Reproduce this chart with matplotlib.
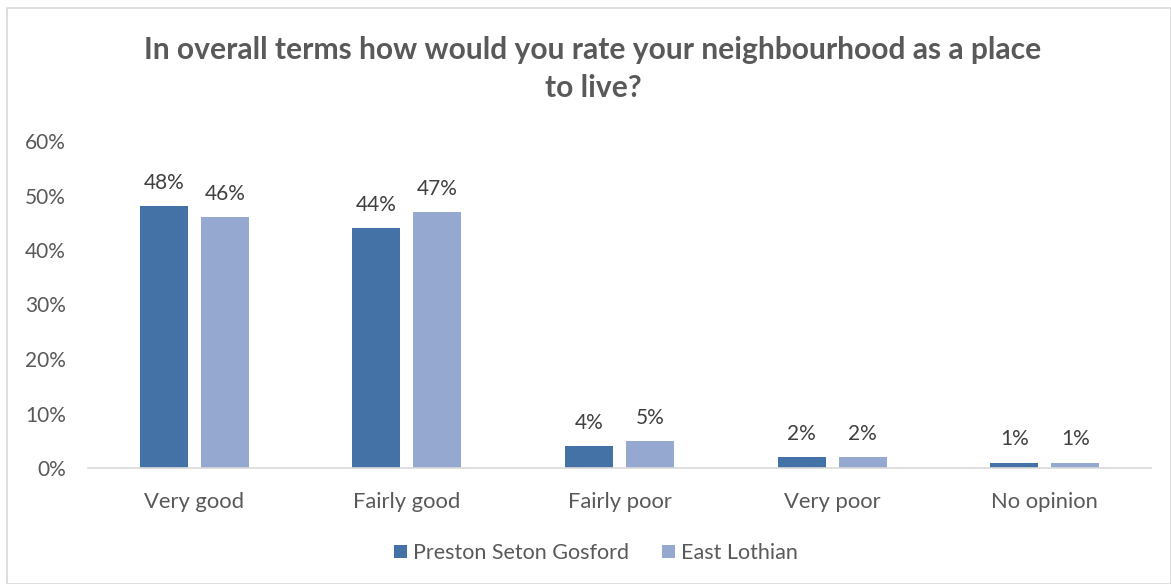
import matplotlib
matplotlib.use("Agg")
import matplotlib.pyplot as plt
import numpy as np
from matplotlib.patches import Rectangle

categories = ["Very good", "Fairly good", "Fairly poor", "Very poor", "No opinion"]
series_names = ["Preston Seton Gosford", "East Lothian"]
preston = [48, 44, 4, 2, 1]
east_lothian = [46, 47, 5, 2, 1]
yticks = [0, 10, 20, 30, 40, 50, 60]
title = "In overall terms how would you rate your neighbourhood as a place\nto live?"

plt.rcParams['font.family'] = ['Lato', 'DejaVu Sans']

fig = plt.figure(figsize=(11.71, 5.84), dpi=100)
fig.patches.append(Rectangle((7/1171, 0), 1 - 7/1171, 1 - 8/584, transform=fig.transFigure,
                             fill=False, edgecolor="#d9d9d9", linewidth=1.2))
ax = fig.add_axes([88/1171, 116/584, 1063/1171, 327/584])

x = np.arange(len(categories))
w = 0.226
off = 0.1435
c1, c2 = "#4472a6", "#95a9d0"
b1 = ax.bar(x - off, preston, w, color=c1, label=series_names[0])
b2 = ax.bar(x + off, east_lothian, w, color=c2, label=series_names[1])

fs = 15
for bars, vals in ((b1, preston), (b2, east_lothian)):
    for b, v in zip(bars, vals):
        ax.annotate(f"{v}%", (b.get_x() + b.get_width() / 2, v), xytext=(0, 9.5),
                    textcoords="offset points", ha="center", va="bottom",
                    fontsize=fs, color="#404040")

ax.set_xlim(-0.5, len(categories) - 0.5)
ax.set_ylim(0, 60)
ax.set_yticks(yticks)
ax.set_yticklabels([f"{t}%" for t in yticks], fontsize=fs, color="#595959")
ax.set_xticks(x)
ax.set_xticklabels(categories, fontsize=15.8, color="#595959")
ax.tick_params(axis="both", length=0)
ax.tick_params(axis="x", pad=17)
ax.tick_params(axis="y", pad=16)
for s in ["top", "right", "left"]:
    ax.spines[s].set_visible(False)
ax.spines["bottom"].set_color("#d9d9d9")
ax.spines["bottom"].set_linewidth(1.2)

fig.text(593/1171, 1 - 69/584, title, ha="center", va="center", fontsize=21.6,
         fontweight="bold", color="#595959", linespacing=1.45)

leg = fig.legend(handles=[b1, b2], labels=series_names, loc="center",
                 bbox_to_anchor=(596/1171, 1 - 553/584), ncol=2, frameon=False,
                 fontsize=15.5, handlelength=0.6, handleheight=0.6, handletextpad=0.3,
                 columnspacing=1.5)
for t in leg.get_texts():
    t.set_color("#595959")

fig.savefig("out.png", dpi=100)
